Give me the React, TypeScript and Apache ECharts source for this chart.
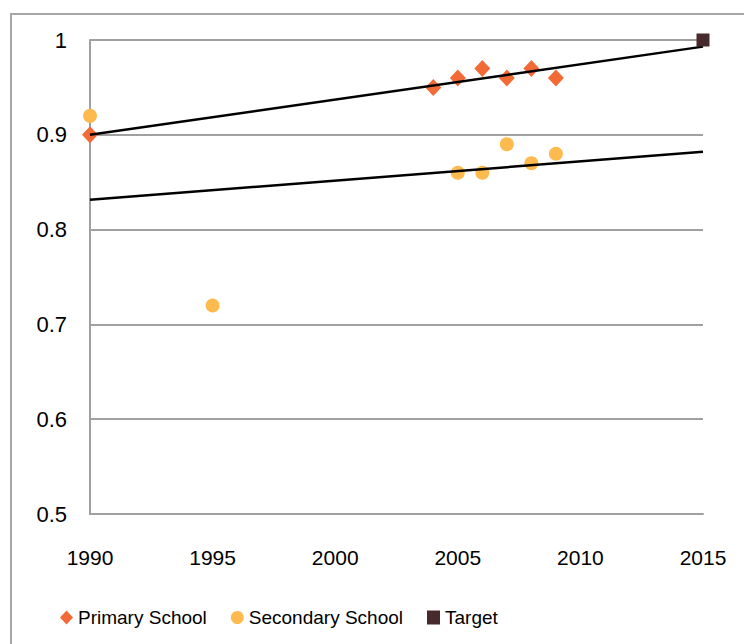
import React, { useEffect, useRef } from "react";
import * as echarts from "echarts";

const primaryYears = [1990, 2004, 2005, 2006, 2007, 2008, 2009];
const primaryValues = [0.9, 0.95, 0.96, 0.97, 0.96, 0.97, 0.96];
const secondaryYears = [1990, 1995, 2005, 2006, 2007, 2008, 2009];
const secondaryValues = [0.92, 0.72, 0.86, 0.86, 0.89, 0.87, 0.88];
const targetYears = [2015];
const targetValues = [1.0];
const trendYears = [1990, 2015];
const primaryTrend = [0.9, 0.993];
const secondaryTrend = [0.8315, 0.882];
const legendNames = ["Primary School", "Secondary School", "Target"];

const FONT = "'Liberation Sans', Arial, sans-serif";

export default function App() {
  const ref = useRef<HTMLDivElement>(null);
  useEffect(() => {
    document.body.style.margin = "0";
    const chart = echarts.init(ref.current!, null, { renderer: "svg" });
    const pairs = (xs: number[], ys: number[]) => xs.map((x, i) => [x, ys[i]]);
    chart.setOption({
      animation: false,
      backgroundColor: "#ffffff",
      textStyle: { fontFamily: FONT },
      graphic: [
        {
          type: "rect",
          shape: { x: 11, y: 14, width: 800, height: 700 },
          style: { fill: "none", stroke: "#A6A6A6", lineWidth: 2 },
          silent: true,
          z: -1,
        },
      ],
      grid: { left: 90, right: 41, top: 40, bottom: 130 },
      xAxis: {
        type: "value",
        min: 1990,
        max: 2015,
        interval: 5,
        axisLine: { show: true, lineStyle: { color: "#A0A0A0", width: 2 } },
        axisTick: { show: false },
        splitLine: { show: false },
        axisLabel: {
          color: "#000",
          fontSize: 21,
          fontFamily: FONT,
          margin: 33,
          formatter: (v: number) => String(v),
        },
      },
      yAxis: {
        type: "value",
        min: 0.5,
        max: 1,
        interval: 0.1,
        axisLine: { show: true, lineStyle: { color: "#A0A0A0", width: 2 } },
        axisTick: { show: false },
        splitLine: { show: true, lineStyle: { color: "#A0A0A0", width: 2 } },
        axisLabel: {
          color: "#000",
          fontSize: 22,
          fontFamily: FONT,
          margin: 23,
          formatter: (v: number) => String(Math.round(v * 10) / 10),
        },
      },
      legend: {
        data: [
          { name: legendNames[0], icon: "diamond" },
          { name: legendNames[1], icon: "circle" },
          { name: legendNames[2], icon: "rect" },
        ],
        left: 55,
        top: 603,
        itemWidth: 13,
        itemHeight: 14,
        itemGap: 24,
        textStyle: { fontSize: 19, color: "#000", fontFamily: FONT },
      },
      series: [
        {
          name: "trend1",
          type: "line",
          data: pairs(trendYears, primaryTrend),
          symbol: "none",
          lineStyle: { color: "#000", width: 2.5 },
          z: 3,
        },
        {
          name: "trend2",
          type: "line",
          data: pairs(trendYears, secondaryTrend),
          symbol: "none",
          lineStyle: { color: "#000", width: 2.5 },
          z: 3,
        },
        {
          name: legendNames[0],
          type: "scatter",
          data: pairs(primaryYears, primaryValues),
          symbol: "diamond",
          symbolSize: [16, 17],
          itemStyle: { color: "#F26A36", opacity: 1 },
          z: 2,
        },
        {
          name: legendNames[1],
          type: "scatter",
          data: pairs(secondaryYears, secondaryValues),
          symbol: "circle",
          symbolSize: 14,
          itemStyle: { color: "#FDBB4F", opacity: 1 },
          z: 2,
        },
        {
          name: legendNames[2],
          type: "scatter",
          data: pairs(targetYears, targetValues),
          symbol: "rect",
          symbolSize: 13,
          itemStyle: { color: "#472A2B", opacity: 1 },
          z: 4,
        },
      ],
    });
    return () => chart.dispose();
  }, []);
  return (
    <div
      ref={ref}
      style={{ position: "absolute", left: 0, top: 0, width: 744, height: 644 }}
    />
  );
}
